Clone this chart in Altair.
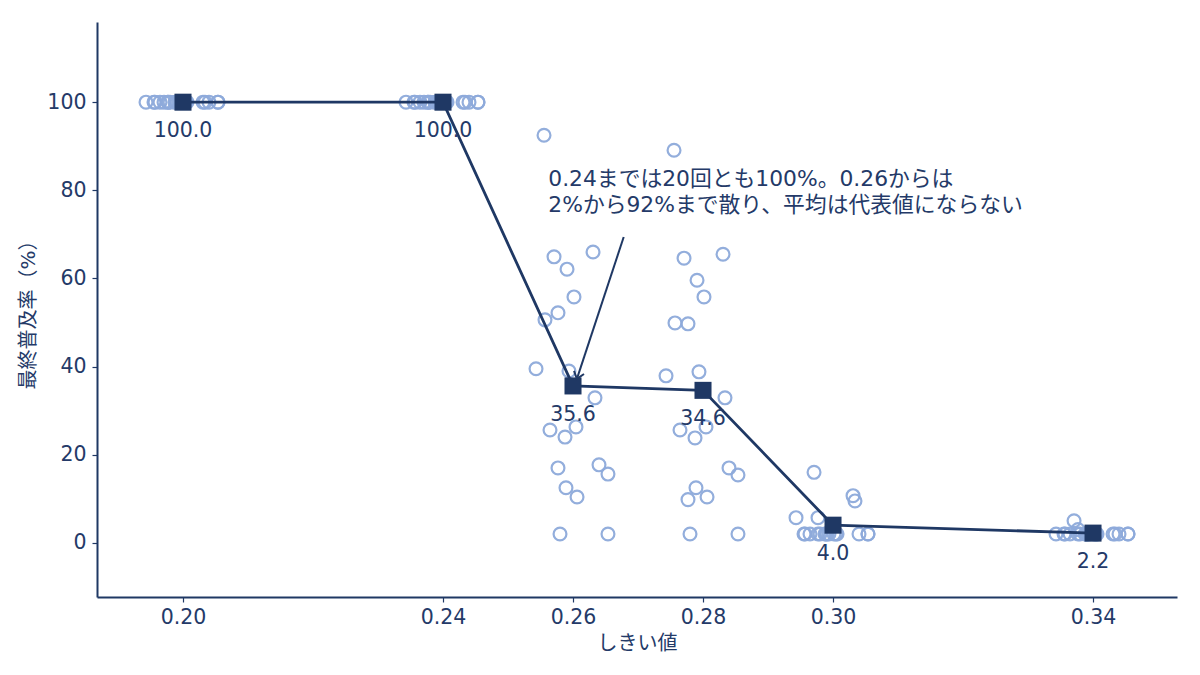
import altair as alt
import pandas as pd

# ---- data ----
thresholds = [0.20, 0.24, 0.26, 0.28, 0.30, 0.34]
means = [100.0, 100.0, 35.6, 34.6, 4.0, 2.2]
# horizontal jitter of the 20 runs (in threshold units)
jitter = [-0.00446, -0.00292, -0.00092, 0.00308, 0.00015, -0.00231, -0.00431, -0.00569,
          -0.00062, 0.00338, -0.00354, 0.00046, -0.00123, -0.00231, 0.00400, 0.00538,
          -0.00108, 0.00062, -0.00200, 0.00538]
runs_020 = [100.0] * 20
runs_024 = [100.0] * 20
runs_026 = [92.5, 64.9, 62.1, 66.0, 55.8, 52.2, 50.6, 39.5, 39.0, 32.9,
            25.6, 26.3, 24.0, 17.0, 17.7, 15.6, 12.5, 10.4, 2.0, 2.0]
runs_028 = [89.1, 64.6, 59.6, 65.5, 55.8, 49.7, 49.9, 37.9, 38.8, 32.9,
            25.6, 26.3, 23.8, 9.8, 17.0, 15.4, 12.5, 10.4, 2.0, 2.0]
runs_030 = [2.0, 16.0, 2.0, 10.7, 2.0, 5.7, 2.0, 5.7, 2.0, 9.5,
            2.0, 2.0, 2.0, 2.0, 2.0, 2.0, 2.0, 2.0, 2.0, 2.0]
runs_034 = [2.0, 5.0, 2.0, 2.0, 2.0, 3.0, 2.0, 2.0, 2.0, 2.0,
            2.0, 2.0, 2.0, 2.0, 2.0, 2.0, 2.0, 2.0, 2.0, 2.0]
annotation = ["0.24までは20回とも100%。0.26からは", "2%から92%まで散り、平均は代表値にならない"]
ann_x, ann_y = 0.2562, 84.8
arrow_from = (0.2678, 69.4)
arrow_to = (0.2606, 37.2)

NAVY = "#1f3864"
TEXT = "#243a68"
LIGHT = "#8eaadb"
FONT = "DejaVu Sans, Noto Sans CJK JP, sans-serif"

all_runs = [runs_020, runs_024, runs_026, runs_028, runs_030, runs_034]
rows = []
for t, runs in zip(thresholds, all_runs):
    for j, v in zip(jitter, runs):
        rows.append({"x": t + j, "y": v})
pts = pd.DataFrame(rows)
mdf = pd.DataFrame({"x": thresholds, "y": means, "label": [f"{m:.1f}" for m in means]})

xscale = alt.Scale(domain=[0.18677, 0.35292], nice=False, zero=False)
yscale = alt.Scale(domain=[-12.3, 118.2], nice=False, zero=False)

xaxis = alt.Axis(values=thresholds, format=".2f", title="しきい値")
yaxis = alt.Axis(values=[0, 20, 40, 60, 80, 100], title="最終普及率（%）")

X = alt.X("x:Q", scale=xscale, axis=xaxis)
Y = alt.Y("y:Q", scale=yscale, axis=yaxis)

points = alt.Chart(pts).mark_point(shape="circle", filled=False, size=165,
                                   strokeWidth=2.2, color=LIGHT, opacity=0.95).encode(x=X, y=Y)

line = alt.Chart(mdf).mark_line(color=NAVY, strokeWidth=2.8).encode(x=X, y=Y)

squares = alt.Chart(mdf).mark_square(size=290, color=NAVY, opacity=1).encode(x=X, y=Y)

labels = alt.Chart(mdf).mark_text(dy=29, fontSize=20.5, color=TEXT, font=FONT,
                                  baseline="middle").encode(x=X, y=Y, text="label:N")

arr = pd.DataFrame({"x": [arrow_from[0]], "y": [arrow_from[1]],
                    "x2": [arrow_to[0]], "y2": [arrow_to[1]]})
arrow_line = alt.Chart(arr).mark_rule(color=NAVY, strokeWidth=2).encode(
    x=X, y=Y, x2="x2:Q", y2="y2:Q")
arrow_head = alt.Chart(arr).mark_point(shape="M-1,-1.3L0,0L1,-1.3", filled=False,
                                       size=110, strokeWidth=2, color=NAVY, angle=18,
                                       opacity=1).encode(
    x=alt.X("x2:Q", scale=xscale, axis=xaxis), y=alt.Y("y2:Q", scale=yscale, axis=yaxis))

ann = alt.Chart(pd.DataFrame({"x": [ann_x], "y": [ann_y]})).mark_text(
    text=annotation, align="left", baseline="top", fontSize=21.8, lineHeight=26,
    color=TEXT, font=FONT).encode(x=X, y=Y)

chart = alt.layer(points, line, squares, labels, arrow_line, arrow_head, ann).properties(
    width=1080, height=575,
    background="white",
    autosize=alt.AutoSizeParams(type="none"),
    padding={"left": 89, "top": 14, "right": 15, "bottom": 60},
).configure_view(strokeWidth=0, stroke="transparent").configure_axis(
    grid=False, labelFontSize=20.5, titleFontSize=20, labelColor=TEXT, titleColor=TEXT,
    domainColor=NAVY, domainWidth=2, tickColor=NAVY, tickSize=5, tickWidth=1.2,
    labelPadding=5, titlePadding=6, labelFont=FONT, titleFont=FONT,
    titleFontWeight="normal",
).configure_axisY(titlePadding=8, labelPadding=6)

chart.save("out.html", embed_options={"renderer": "svg", "actions": False})
